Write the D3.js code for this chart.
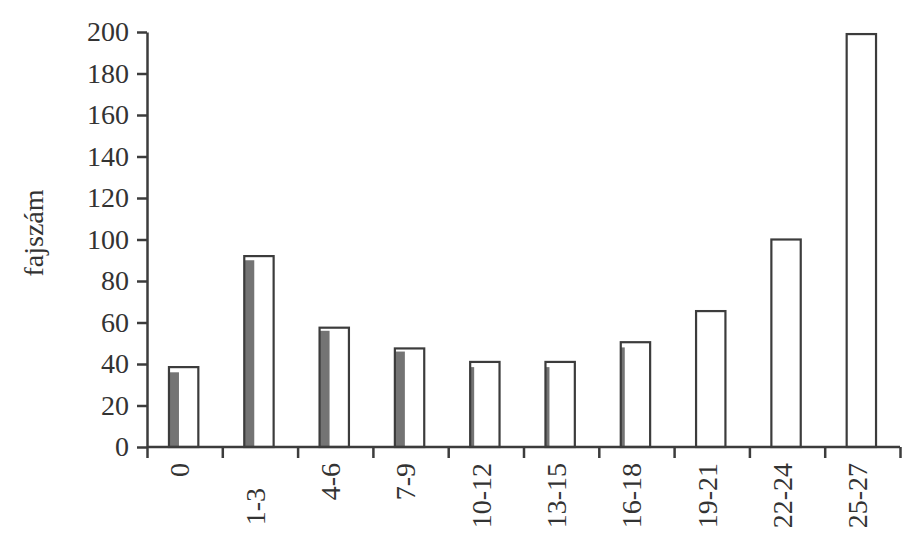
<!DOCTYPE html>
<html><head><meta charset="utf-8">
<script src="https://cdn.jsdelivr.net/npm/d3@7"></script>
<style>body{margin:0;background:#fff}svg{display:block}</style>
</head><body>
<svg id="c" width="914" height="543"></svg>
<script>
const categories = ["0","1-3","4-6","7-9","10-12","13-15","16-18","19-21","22-24","25-27"];
const totalValues = [38.5, 92, 57.5, 47.5, 41, 41, 50.5, 65.5, 100, 199];
const shadedValues = [36, 90, 56, 46, 38.5, 38.5, 48, 0, 0, 0];
const yTicks = [0,20,40,60,80,100,120,140,160,180,200];
const yLabel = "fajszám";

const svg = d3.select("#c");
const X0 = 147, X1 = 900, Y0 = 447, Ytop = 32;
const ink = "#3c3c3c";
const font = "'Liberation Serif','Times New Roman',serif";
const fs = 28;

const y = d3.scaleLinear().domain([0,200]).range([Y0, Ytop]);
const x = d3.scaleBand().domain(categories).range([X0, X1]).padding(0);
const xi = d3.scaleLinear().domain([0, categories.length]).range([X0, X1]);
const bw = x.bandwidth() * 0.39;

// bars
const g = svg.append("g");
categories.forEach((c, i) => {
  const cx = x(c) + x.bandwidth()/2 - 1;
  const left = cx - bw/2;
  g.append("rect").attr("x", left).attr("y", y(totalValues[i]))
    .attr("width", bw).attr("height", y(0) - y(totalValues[i]))
    .attr("fill", "#fff");
  if (shadedValues[i] > 0) {
    const gw = i < 4 ? 10 : 4;
    g.append("rect").attr("x", left).attr("y", y(shadedValues[i]))
      .attr("width", gw).attr("height", y(0) - y(shadedValues[i]))
      .attr("fill", "#747474");
  }
  g.append("rect").attr("x", left).attr("y", y(totalValues[i]))
    .attr("width", bw).attr("height", y(0) - y(totalValues[i]))
    .attr("fill", "none").attr("stroke", ink).attr("stroke-width", 2.2);
});

// y axis
const ya = svg.append("g").attr("transform", `translate(${X0},0)`)
  .call(d3.axisLeft(y).tickValues(yTicks).tickSize(10).tickSizeOuter(0).tickPadding(8));
ya.selectAll("path,line").attr("stroke", ink).attr("stroke-width", 2.5);
ya.selectAll("text").attr("font-family", font).attr("font-size", fs).attr("fill", "#333");

// x axis
const xa = svg.append("g").attr("transform", `translate(0,${Y0})`)
  .call(d3.axisBottom(xi).ticks(categories.length).tickFormat("").tickSize(11).tickSizeOuter(11));
xa.selectAll("path,line").attr("stroke", ink).attr("stroke-width", 2.5);
xa.select(".domain").attr("d", `M${X0},0H${X1}`);

// x labels
svg.append("g").selectAll("text").data(categories).join("text")
  .attr("transform", (d, i) => `translate(${x(d) + x.bandwidth()/2 - 5},${i === 1 ? 488 : 463}) rotate(-90)`)
  .attr("text-anchor", "end").attr("dy", "0.35em")
  .attr("font-family", font).attr("font-size", fs).attr("fill", "#333")
  .text(d => d);

// y label
svg.append("text").attr("transform", "translate(33,233) rotate(-90)")
  .attr("text-anchor", "middle").attr("dy", "0.35em")
  .attr("font-family", font).attr("font-size", fs).attr("fill", "#333")
  .text(yLabel);
</script>
</body></html>
